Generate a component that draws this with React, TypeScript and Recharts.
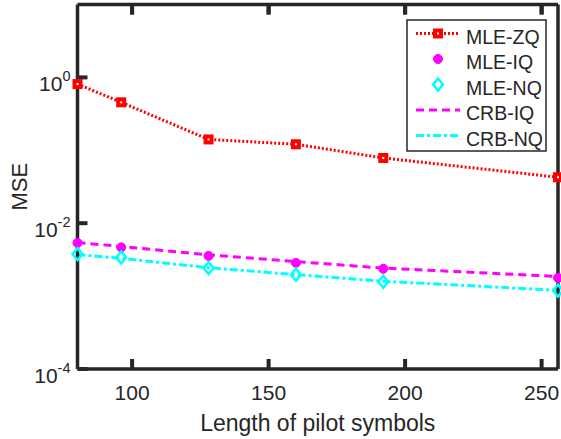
import React from "react";
import { LineChart, Line, XAxis, YAxis, Legend } from "recharts";

const pilotLengths = [80, 96, 128, 160, 192, 256];
const mleZq = [0.81, 0.455, 0.141, 0.121, 0.0785, 0.0427];
const mleIq = [0.00537, 0.00466, 0.00356, 0.00286, 0.00237, 0.00178];
const mleNq = [0.00376, 0.00338, 0.00242, 0.00196, 0.00157, 0.00119];
const crbIq = [0.00542, 0.0048, 0.00368, 0.00298, 0.00242, 0.00186];
const crbNq = [0.0037, 0.0033, 0.00245, 0.00197, 0.0016, 0.0012];

const xTicks = [100, 150, 200, 250];
const yTicks = [1e-4, 1e-2, 1];

const INK = "#262626";
const RED = "#ff0000";
const MAGENTA = "#ff00ff";
const CYAN = "#00ffff";
const FONT = '"Liberation Sans", Arial, Helvetica, sans-serif';
const TICK = 10;

const data = pilotLengths.map((n, i) => ({
  n,
  mleZq: mleZq[i],
  mleIq: mleIq[i],
  mleNq: mleNq[i],
  crbIq: crbIq[i],
  crbNq: crbNq[i],
}));

/* ---------- markers ---------- */

function SquareDot(p: any) {
  if (p.cx == null || p.cy == null) return null;
  return (
    <rect key={p.key} x={p.cx - 3} y={p.cy - 3} width={6} height={6} fill="#fff" stroke={RED} strokeWidth={4} />
  );
}

function CircleDot(p: any) {
  if (p.cx == null || p.cy == null) return null;
  return <circle key={p.key} cx={p.cx} cy={p.cy} r={4.5} fill={MAGENTA} stroke={MAGENTA} strokeWidth={1} />;
}

function DiamondDot(p: any) {
  if (p.cx == null || p.cy == null) return null;
  const r = 6;
  return (
    <path
      key={p.key}
      d={`M${p.cx},${p.cy - r}L${p.cx + r - 1},${p.cy}L${p.cx},${p.cy + r}L${p.cx - r + 1},${p.cy}Z`}
      fill="none"
      stroke={CYAN}
      strokeWidth={2.5}
    />
  );
}

/* ---------- ticks ---------- */

function XTick({ x, y, payload }: any) {
  return (
    <text x={x} y={y + 14} textAnchor="middle" fontSize={21} fill={INK} fontFamily={FONT}>
      {payload.value}
    </text>
  );
}

function YTick({ x, y, payload }: any) {
  const exp = Math.round(Math.log10(payload.value));
  return (
    <text x={x} y={y + 14} textAnchor="end" fontSize={21} fill={INK} fontFamily={FONT}>
      <tspan>10</tspan>
      <tspan dy={-10} fontSize={14.5}>
        {exp}
      </tspan>
    </text>
  );
}

// top / right: tick text position is 8px inside the frame (tickSize -10, tickMargin 2)
function TopTick({ x, y }: any) {
  const edge = y - 8;
  return <line x1={x} x2={x} y1={edge} y2={edge + TICK} stroke={INK} strokeWidth={4} />;
}

function RightTick({ x, y }: any) {
  const edge = x + 8;
  return <line x1={edge} x2={edge - TICK} y1={y} y2={y} stroke={INK} strokeWidth={4} />;
}

/* ---------- legend ---------- */

const legendRows = [
  { name: "MLE-ZQ", color: RED, dash: "2 2", marker: "square" },
  { name: "MLE-IQ", color: MAGENTA, dash: null, marker: "circle" },
  { name: "MLE-NQ", color: CYAN, dash: null, marker: "diamond" },
  { name: "CRB-IQ", color: MAGENTA, dash: "8 5", marker: null },
  { name: "CRB-NQ", color: CYAN, dash: "8 3 3 3", marker: null },
];

function LegendBox() {
  return (
    <svg width={141} height={133} style={{ display: "block" }}>
      <rect x={1} y={1} width={139} height={131} fill="#fff" stroke={INK} strokeWidth={1.5} />
      {legendRows.map((r, i) => {
        const y = 14.5 + i * 25.5;
        return (
          <g key={r.name}>
            {r.dash && (
              <line x1={10} x2={54} y1={y} y2={y} stroke={r.color} strokeWidth={3} strokeDasharray={r.dash} />
            )}
            {r.marker === "square" && SquareDot({ cx: 32, cy: y })}
            {r.marker === "circle" && CircleDot({ cx: 32, cy: y })}
            {r.marker === "diamond" && DiamondDot({ cx: 32, cy: y })}
            <text x={60} y={y + 10} fontSize={19.5} fill={INK} fontFamily={FONT}>
              {r.name}
            </text>
          </g>
        );
      })}
    </svg>
  );
}

function MseLabel({ viewBox }: any) {
  const cy = viewBox.y + viewBox.height / 2;
  return (
    <text transform={`translate(27, ${cy}) rotate(-90)`} textAnchor="middle" fontSize={22} fill={INK} fontFamily={FONT}>
      MSE
    </text>
  );
}

export default function App() {
  const axisLine = { stroke: INK, strokeWidth: 3.5 };
  const tickLine = { stroke: INK, strokeWidth: 4 };
  return (
    <div style={{ position: "absolute", left: 0, top: 0, fontFamily: FONT }}>
      <LineChart width={561} height={439} data={data} margin={{ top: 3.5, right: 2, bottom: 0, left: 0 }}>
        <XAxis
          dataKey="n"
          type="number"
          domain={[80, 256]}
          ticks={xTicks}
          interval={0}
          height={70}
          axisLine={axisLine}
          tickLine={tickLine}
          tickSize={-TICK}
          tickMargin={27}
          tick={XTick}
          label={{ value: "Length of pilot symbols", position: "insideBottom", offset: 8, fontSize: 23, fill: INK }}
        />
        <XAxis
          xAxisId="top"
          orientation="top"
          dataKey="n"
          type="number"
          domain={[80, 256]}
          ticks={xTicks}
          interval={0}
          height={1}
          axisLine={axisLine}
          tickLine={tickLine}
          tickSize={-TICK}
          tickMargin={2}
          tick={TopTick}
        />
        <YAxis
          scale="log"
          type="number"
          domain={[1e-4, 10]}
          ticks={yTicks}
          interval={0}
          width={77.5}
          axisLine={axisLine}
          tickLine={tickLine}
          tickSize={-TICK}
          tickMargin={17}
          tick={YTick}
          label={{ content: MseLabel }}
        />
        <YAxis
          yAxisId="right"
          orientation="right"
          scale="log"
          type="number"
          domain={[1e-4, 10]}
          ticks={yTicks}
          interval={0}
          width={1}
          axisLine={axisLine}
          tickLine={tickLine}
          tickSize={-TICK}
          tickMargin={2}
          tick={RightTick}
        />
        <Line dataKey="mleZq" stroke={RED} strokeWidth={3} strokeDasharray="2 2" dot={SquareDot} isAnimationActive={false} />
        <Line dataKey="mleIq" stroke="none" dot={CircleDot} isAnimationActive={false} />
        <Line dataKey="mleNq" stroke="none" dot={DiamondDot} isAnimationActive={false} />
        <Line dataKey="crbIq" stroke={MAGENTA} strokeWidth={3} strokeDasharray="8 5" dot={false} isAnimationActive={false} />
        <Line dataKey="crbNq" stroke={CYAN} strokeWidth={3} strokeDasharray="8 3 3 3" dot={false} isAnimationActive={false} />
        <Legend
          layout="vertical"
          align="center"
          verticalAlign="middle"
          content={LegendBox}
          wrapperStyle={{ position: "absolute", left: 406, top: 19, width: 141, height: 133 }}
        />
      </LineChart>
    </div>
  );
}
